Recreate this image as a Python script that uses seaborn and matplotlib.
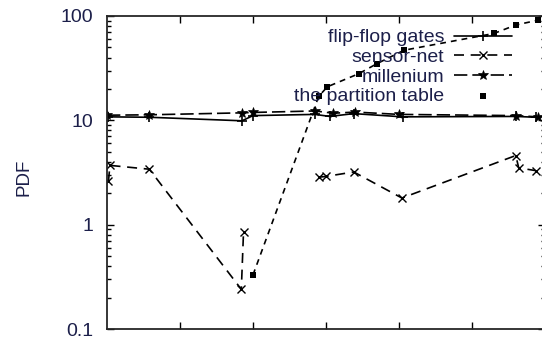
import matplotlib
matplotlib.use("Agg")
import matplotlib.pyplot as plt
import seaborn as sns
import numpy as np

# data (x in axis units 0..6, y on log scale)
flip_x = [0.02, 0.58, 1.85, 2.0, 2.85, 3.05, 3.38, 4.05, 5.6, 5.88]
flip_y = [10.8, 10.7, 9.9, 11.1, 11.4, 10.9, 11.6, 10.8, 10.9, 10.7]

sensor_x1 = [0.02, 0.04, 0.58, 1.84, 1.87]
sensor_y1 = [2.6, 3.7, 3.4, 0.24, 0.85]
sensor_x2 = [2.9, 3.0, 3.38, 4.04, 5.6, 5.64, 5.87]
sensor_y2 = [2.85, 2.9, 3.2, 1.8, 4.6, 3.5, 3.3]

mill_x = [0.0, 0.58, 1.85, 2.0, 2.85, 3.1, 3.4, 4.0, 5.6, 5.9]
mill_y = [11.2, 11.3, 11.8, 11.9, 12.3, 11.7, 12.0, 11.4, 11.1, 10.8]

part_x = [2.0, 2.9, 3.02, 3.45, 3.7, 4.07, 5.3, 5.6, 5.9]
part_y = [0.33, 17.0, 21.0, 28.0, 35.0, 47.0, 68.0, 82.0, 91.0]

labels = ["flip-flop gates", "sensor-net", "millenium", "the partition table"]
ytick_vals = [0.1, 1, 10, 100]
ytick_labels = ["0.1", "1", "10", "100"]

sns.set_style("ticks")
plt.rcParams["font.family"] = ["Liberation Sans", "DejaVu Sans"]
txt_col = "#1c1f4a"

fig = plt.figure(figsize=(5.42, 3.4), dpi=100)
ax = fig.add_axes([107 / 542, 11 / 340, 438 / 542, 313 / 340])

lw = 1.2
mk = dict(mec="black", mfc="black")
sns.lineplot(x=flip_x, y=flip_y, ax=ax, color="black", lw=lw, marker="+", ms=7,
             mew=1.2, sort=False, estimator=None, label=labels[0], **mk)
sns.lineplot(x=sensor_x1, y=sensor_y1, ax=ax, color="black", lw=lw, marker="x", ms=6,
             mew=1.0, sort=False, estimator=None, dashes=(6, 4), label=labels[1], **mk)
sns.lineplot(x=sensor_x2, y=sensor_y2, ax=ax, color="black", lw=lw, marker="x", ms=6,
             mew=1.0, sort=False, estimator=None, dashes=(6, 4), **mk)
sns.lineplot(x=mill_x, y=mill_y, ax=ax, color="black", lw=lw, marker="*", ms=7,
             mew=0.5, sort=False, estimator=None, dashes=(8, 3), label=labels[2], **mk)
sns.lineplot(x=part_x, y=part_y, ax=ax, color="black", lw=lw, sort=False,
             estimator=None, dashes=(3.5, 3))
sns.scatterplot(x=part_x, y=part_y, ax=ax, color="black", marker="s", s=14,
                linewidth=0, label=labels[3])

ax.set_yscale("log")
ax.set_ylim(0.1, 100)
ax.set_xlim(0, 6)
ax.set_yticks(ytick_vals)
ax.set_yticklabels(ytick_labels)
ax.set_xticks([1, 2, 3, 4, 5])
ax.set_xticklabels([])
ax.tick_params(axis="both", which="both", direction="in", top=True, right=True,
               colors="black", labelcolor=txt_col, labelsize=14, pad=10, width=1)
ax.tick_params(which="major", length=5)
ax.tick_params(which="minor", length=3)
for s in ax.spines.values():
    s.set_linewidth(1.3)

ax.set_ylabel("PDF", fontsize=13.5, color=txt_col)
ax.yaxis.set_label_coords(-0.171, 0.486)
ax.set_xlabel("")

leg = ax.legend(loc="upper right", bbox_to_anchor=(0.947, 0.99), frameon=False,
                markerfirst=False, fontsize=14, handlelength=3.0, borderpad=0,
                labelspacing=0.1, handletextpad=0.5)
for t in leg.get_texts():
    t.set_color(txt_col)

fig.savefig("out.png", dpi=100)
